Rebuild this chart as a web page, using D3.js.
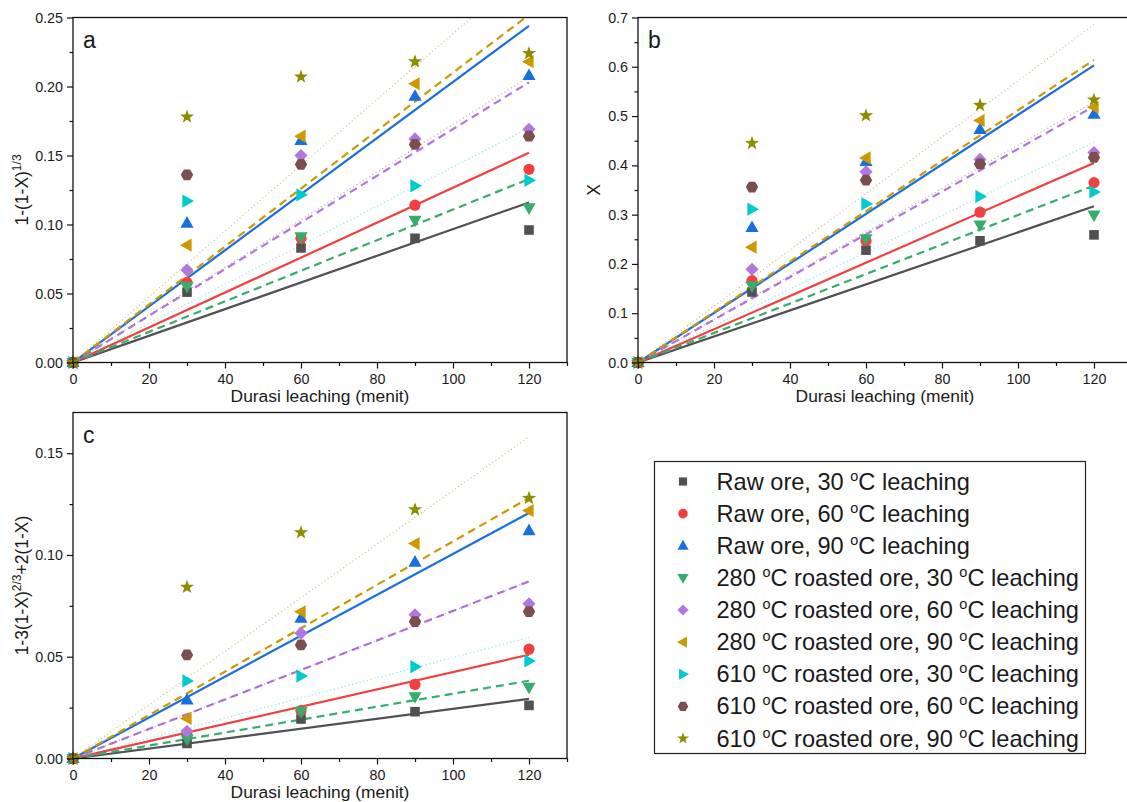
<!DOCTYPE html>
<html>
<head>
<meta charset="utf-8">
<script src="https://cdn.jsdelivr.net/npm/d3@7"></script>
<style>
  body { margin: 0; background: #fff; }
  svg { display: block; }
  text { font-family: Arial, "Liberation Sans", sans-serif; fill: #1a1a1a; }
</style>
</head>
<body>
<svg id="chart" width="1127" height="802"></svg>
<script>
// Leaching time (minutes)
const durations = [0, 30, 60, 90, 120];

const seriesLabels = [
  "Raw ore, 30 °C leaching",
  "Raw ore, 60 °C leaching",
  "Raw ore, 90 °C leaching",
  "280 °C roasted ore, 30 °C leaching",
  "280 °C roasted ore, 60 °C leaching",
  "280 °C roasted ore, 90 °C leaching",
  "610 °C roasted ore, 30 °C leaching",
  "610 °C roasted ore, 60 °C leaching",
  "610 °C roasted ore, 90 °C leaching"
];

// (a) 1-(1-X)^(1/3)
const shrinkCoreA = [
  [0, 0.051, 0.083, 0.090, 0.096],
  [0, 0.058, 0.090, 0.114, 0.140],
  [0, 0.101, 0.161, 0.193, 0.208],
  [0, 0.055, 0.091, 0.103, 0.112],
  [0, 0.067, 0.150, 0.162, 0.169],
  [0, 0.085, 0.164, 0.202, 0.218],
  [0, 0.117, 0.1215, 0.128, 0.132],
  [0, 0.136, 0.1435, 0.158, 0.164],
  [0, 0.178, 0.207, 0.218, 0.224]
];
// (a) fitted line value at 120 min (lines through the origin)
const fitEndA = [0.116, 0.152, 0.244, 0.133, 0.203, 0.252, 0.170, 0.207, 0.286];

// (b) conversion X
const conversionB = [
  [0, 0.143, 0.228, 0.247, 0.259],
  [0, 0.166, 0.247, 0.305, 0.365],
  [0, 0.274, 0.408, 0.473, 0.504],
  [0, 0.155, 0.251, 0.279, 0.299],
  [0, 0.189, 0.387, 0.412, 0.426],
  [0, 0.234, 0.415, 0.491, 0.518],
  [0, 0.311, 0.322, 0.337, 0.346],
  [0, 0.356, 0.370, 0.403, 0.416],
  [0, 0.445, 0.501, 0.522, 0.533]
];
const fitEndB = [0.317, 0.405, 0.603, 0.359, 0.520, 0.614, 0.447, 0.529, 0.686];

// (c) 1-3(1-X)^(2/3)+2(1-X)
const diffusionC = [
  [0, 0.0074, 0.0194, 0.0230, 0.0261],
  [0, 0.0115, 0.0235, 0.0364, 0.0537],
  [0, 0.0288, 0.0690, 0.0965, 0.1120],
  [0, 0.0095, 0.0230, 0.0303, 0.0350],
  [0, 0.0134, 0.0616, 0.0706, 0.0760],
  [0, 0.0197, 0.0721, 0.1056, 0.1218],
  [0, 0.0381, 0.0405, 0.0451, 0.0479],
  [0, 0.0509, 0.0558, 0.0673, 0.0722],
  [0, 0.0842, 0.1110, 0.1223, 0.1279]
];
const fitEndC = [0.0293, 0.051, 0.1206, 0.0382, 0.087, 0.128, 0.0595, 0.0871, 0.158];

const xTicks = [0, 20, 40, 60, 80, 100, 120];

const colors = ["#515151", "#F14040", "#1A6FDF", "#37AD6B", "#B177DE", "#CC9900", "#00CBCC", "#7D4E4E", "#8E8C00"];
const symbols = ["square", "circle", "up", "down", "diamond", "left", "right", "hexagon", "star"];
const lineStyles = ["solid", "solid", "solid", "dash", "dash", "dash", "dot", "dot", "dot"];

const svg = d3.select("#chart");

function poly(pts) {
  return "M" + pts.map(p => p[0].toFixed(2) + "," + p[1].toFixed(2)).join("L") + "Z";
}

function markerPath(kind, s) {
  switch (kind) {
    case "square": { const h = 4.8 * s; return poly([[-h, -h], [h, -h], [h, h], [-h, h]]); }
    case "circle": { const r = 5.6 * s; return `M${r},0A${r},${r} 0 1,1 ${-r},0A${r},${r} 0 1,1 ${r},0Z`; }
    case "up": return poly([[0, -7 * s], [6.6 * s, 4.6 * s], [-6.6 * s, 4.6 * s]]);
    case "down": return poly([[0, 7 * s], [6.6 * s, -4.6 * s], [-6.6 * s, -4.6 * s]]);
    case "left": return poly([[-7 * s, 0], [4.6 * s, -6.6 * s], [4.6 * s, 6.6 * s]]);
    case "right": return poly([[7 * s, 0], [-4.6 * s, -6.6 * s], [-4.6 * s, 6.6 * s]]);
    case "diamond": { const d = 6.6 * s; return poly([[0, -d], [d, 0], [0, d], [-d, 0]]); }
    case "hexagon": {
      const r = 6.2 * s;
      return poly(d3.range(6).map(k => [r * Math.cos(k * Math.PI / 3), r * Math.sin(k * Math.PI / 3)]));
    }
    case "star": {
      const ro = 7.4 * s, ri = 3.0 * s;
      return poly(d3.range(10).map(k => {
        const a = -Math.PI / 2 + k * Math.PI / 5, r = k % 2 ? ri : ro;
        return [r * Math.cos(a), r * Math.sin(a)];
      }));
    }
  }
}

function styleLine(sel, i) {
  const st = lineStyles[i];
  sel.attr("stroke", colors[i]).attr("fill", "none");
  if (st === "solid") sel.attr("stroke-width", 2.2);
  else if (st === "dash") sel.attr("stroke-width", 2.2).attr("stroke-dasharray", "8,5");
  else sel.attr("stroke-width", 1.2).attr("stroke-dasharray", "1.2,2.6").attr("stroke-opacity", 0.45);
}

// text made of plain and superscript pieces
function addSupText(textSel, parts, baseSize, supSize, rise) {
  parts.forEach(p => {
    if (p.sup) {
      textSel.append("tspan").attr("font-size", supSize).attr("dy", -rise).text(p.t);
    } else {
      const ts = textSel.append("tspan").attr("font-size", baseSize).text(p.t);
      if (p.after) ts.attr("dy", rise);
    }
  });
}

// "°" in a label is drawn as a raised small "o"
function degreeParts(label) {
  const out = [];
  label.split("°").forEach((c, k) => {
    if (k > 0) out.push({ t: "o", sup: true });
    out.push({ t: c, after: k > 0 });
  });
  return out;
}

const panels = [
  { key: "a", left: 73, top: 17.5, bottom: 362.5, yMax: 0.25, yStep: 0.05, yTop: 0.25, fmt: ".2f",
    values: shrinkCoreA, fitEnd: fitEndA,
    yTitle: [{ t: "1-(1-X)" }, { t: "1/3", sup: true }] },
  { key: "b", left: 638, top: 17.5, bottom: 362.5, yMax: 0.7, yStep: 0.1, yTop: 0.7, fmt: ".1f",
    values: conversionB, fitEnd: fitEndB,
    yTitle: [{ t: "X" }] },
  { key: "c", left: 73, top: 412.5, bottom: 758.5, yMax: 0.17, yStep: 0.05, yTop: 0.15, fmt: ".2f",
    values: diffusionC, fitEnd: fitEndC,
    yTitle: [{ t: "1-3(1-X)" }, { t: "2/3", sup: true }, { t: "+2(1-X)", after: true }] }
];

panels.forEach(cfg => {
  const x = d3.scaleLinear().domain([0, 130]).range([cfg.left, cfg.left + 494]);
  const y = d3.scaleLinear().domain([0, cfg.yMax]).range([cfg.bottom, cfg.top]);
  const g = svg.append("g");

  const clipId = "clip-" + cfg.key;
  svg.append("clipPath").attr("id", clipId).append("rect")
    .attr("x", x(0)).attr("y", y(cfg.yMax))
    .attr("width", x(130) - x(0)).attr("height", y(0) - y(cfg.yMax));

  // fitted lines through the origin
  const lg = g.append("g").attr("clip-path", `url(#${clipId})`);
  cfg.fitEnd.forEach((v, i) => {
    lg.append("path")
      .attr("d", d3.line()([[x(0), y(0)], [x(120), y(v)]]))
      .call(styleLine, i);
  });

  // data points
  cfg.values.forEach((vals, i) => {
    g.append("g").selectAll("path")
      .data(durations.map((t, j) => [t, vals[j]]))
      .join("path")
      .attr("transform", d => `translate(${x(d[0])},${y(d[1])})`)
      .attr("d", markerPath(symbols[i], 1))
      .attr("fill", colors[i]);
  });

  // frame
  g.append("rect")
    .attr("x", x(0)).attr("y", y(cfg.yMax))
    .attr("width", x(130) - x(0)).attr("height", y(0) - y(cfg.yMax))
    .attr("fill", "none").attr("stroke", "#111").attr("stroke-width", 1.3);

  // x axis
  const xa = g.append("g").attr("transform", `translate(0,${y(0)})`)
    .call(d3.axisBottom(x).tickValues(xTicks).tickSize(6).tickPadding(5).tickSizeOuter(0));
  const xm = g.append("g").attr("transform", `translate(0,${y(0)})`)
    .call(d3.axisBottom(x).tickValues([10, 30, 50, 70, 90, 110, 130]).tickSize(3.5).tickFormat("").tickSizeOuter(0));

  // y axis
  const yMajor = d3.range(0, cfg.yTop + 1e-9, cfg.yStep);
  const yMinor = d3.range(cfg.yStep / 2, cfg.yMax + 1e-9, cfg.yStep);
  const ya = g.append("g").attr("transform", `translate(${x(0)},0)`)
    .call(d3.axisLeft(y).tickValues(yMajor).tickFormat(d3.format(cfg.fmt)).tickSize(6).tickPadding(4).tickSizeOuter(0));
  const ym = g.append("g").attr("transform", `translate(${x(0)},0)`)
    .call(d3.axisLeft(y).tickValues(yMinor).tickSize(3.5).tickFormat("").tickSizeOuter(0));

  [xa, xm, ya, ym].forEach(ax => {
    ax.select(".domain").remove();
    ax.selectAll(".tick line").attr("stroke", "#111").attr("stroke-width", 1.2);
    ax.selectAll(".tick text").attr("font-size", 14.3).attr("fill", "#1a1a1a")
      .attr("font-family", 'Arial, "Liberation Sans", sans-serif');
  });

  // axis titles
  g.append("text")
    .attr("x", (x(0) + x(130)) / 2).attr("y", y(0) + 39)
    .attr("text-anchor", "middle").attr("font-size", 17.4)
    .text("Durasi leaching (menit)");

  const yt = g.append("text")
    .attr("transform", `translate(${x(0) - (cfg.key === "b" ? 38 : 45)},${(y(0) + y(cfg.yMax)) / 2}) rotate(-90)`)
    .attr("text-anchor", "middle");
  addSupText(yt, cfg.yTitle, 17.5, 12, 7);

  // panel letter
  g.append("text")
    .attr("x", x(0) + 10).attr("y", y(cfg.yMax) + 30)
    .attr("font-size", 23)
    .text(cfg.key);
});

// legend
const legend = svg.append("g");
legend.append("rect")
  .attr("x", 654.5).attr("y", 461.5).attr("width", 431).attr("height", 292)
  .attr("fill", "#fff").attr("stroke", "#222").attr("stroke-width", 1.2);

const rowY = d3.scalePoint().domain(d3.range(seriesLabels.length)).range([481.5, 738.5]);
seriesLabels.forEach((lab, i) => {
  const cy = rowY(i);
  legend.append("path")
    .attr("transform", `translate(683,${cy})`)
    .attr("d", markerPath(symbols[i], 0.85))
    .attr("fill", colors[i]);
  const t = legend.append("text")
    .attr("x", 716.5).attr("y", cy + 8);
  addSupText(t, degreeParts(lab), 23.6, 14.5, 9);
});
</script>
</body>
</html>
